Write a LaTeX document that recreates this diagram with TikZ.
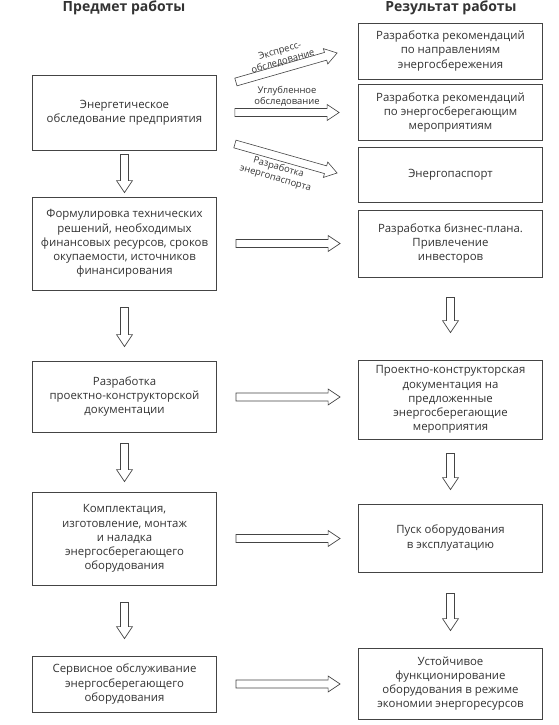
\documentclass[tikz,border=0pt]{standalone}
\usepackage{fontspec}
\setmainfont{Open Sans}
\usetikzlibrary{calc}
\definecolor{ink}{HTML}{333333}
\definecolor{frame}{HTML}{444444}
\tikzset{
  box/.style={draw=frame, line width=0.8pt, fill=white, text=ink, align=center,
    minimum width=184pt, inner sep=2pt, font=\fontsize{11.4}{14.2}\selectfont},
  head/.style={text=ink, font=\fontsize{14}{16}\selectfont\bfseries},
  lbl/.style={text=ink, align=center, inner sep=0pt, font=\fontsize{9.4}{11}\selectfont},
  blockarrow/.style={draw=frame, fill=white, line width=0.7pt, line join=miter,
    to path={
      let \p1=(\tikztostart), \p2=(\tikztotarget) in
      ($(\p1)!4pt!90:(\p2)$)
      -- ($(\p2)!12pt!(\p1)!4pt!-90:(\p1)$)
      -- ($(\p2)!12pt!(\p1)!8pt!-90:(\p1)$)
      -- (\p2)
      -- ($(\p2)!12pt!(\p1)!8pt!90:(\p1)$)
      -- ($(\p2)!12pt!(\p1)!4pt!90:(\p1)$)
      -- ($(\p1)!4pt!-90:(\p2)$)
      -- cycle
    }},
  thinarrow/.style={blockarrow, line width=0.6pt}
}
\begin{document}
\begin{tikzpicture}[x=1pt,y=-1pt]
\useasboundingbox (0,0) rectangle (559,725);

\node[head] (hL) at (124,8) {Предмет работы};
\node[head] (hR) at (451,8) {Результат работы};

% left column
\node[box, minimum height=75pt] (L1) at (124.5,112.5) {Энергетическое\\обследование предприятия};
\node[box, minimum height=93pt] (L2) at (124.5,243.5) {Формулировка технических\\решений, необходимых\\финансовых ресурсов, сроков\\окупаемости, источников\\финансирования};
\node[box, minimum height=71pt] (L3) at (124.5,396.5) {Разработка\\проектно-конструкторской\\документации};
\node[box, minimum height=93pt] (L4) at (124.5,538.5) {Комплектация,\\изготовление, монтаж\\и наладка\\энергосберегающего\\оборудования};
\node[box, minimum height=56pt] (L5) at (124.5,684) {Сервисное обслуживание\\энергосберегающего\\оборудования};

% right column
\node[box, minimum height=56pt] (R1) at (450.5,51) {Разработка рекомендаций\\по направлениям\\энергосбережения};
\node[box, minimum height=56pt] (R2) at (450.5,112.5) {Разработка рекомендаций\\по энергосберегающим\\мероприятиям};
\node[box, minimum height=55pt] (R3) at (450.5,174.5) {Энергопаспорт};
\node[box, minimum height=67pt] (R4) at (450.5,243.5) {Разработка бизнес-плана.\\Привлечение\\инвесторов};
\node[box, minimum height=79pt] (R5) at (450.5,399.5) {Проектно-конструкторская\\документация на\\предложенные\\энергосберегающие\\мероприятия};
\node[box, minimum height=68pt] (R6) at (450.5,538) {Пуск оборудования\\в эксплуатацию};
\node[box, minimum height=71pt] (R7) at (450.5,683.5) {Устойчивое\\функционирование\\оборудования в режиме\\экономии энергоресурсов};

% slanted arrows from the audit box
\draw[thinarrow] ($(L1.east)+(19,-30.5)$) to ($(R1.west)+(-21,2)$);
\draw[thinarrow] ($(L1.east)+(18,0)$) to ($(R2.west|-L1.east)+(-19,0)$);
\draw[thinarrow] ($(L1.east)+(18,31.5)$) to ($(R3.west)+(-21,-1.5)$);

\node[lbl, rotate=16] (t1) at (281.5,56.5) {Экспресс-\\обследование};
\node[lbl] (t2) at (287,96) {Углубленное\\обследование};
\node[lbl, rotate=-16] (t3) at (277,173) {Разработка\\энергопаспорта};

% horizontal arrows
\draw[blockarrow] ($(L2.east)+(19,0)$) to ($(R4.west|-L2.east)+(-18,0)$);
\draw[blockarrow] ($(L3.east)+(19,0.5)$) to ($(R5.west|-L3.east)+(-18,0.5)$);
\draw[blockarrow] ($(L4.east)+(19,0)$) to ($(R6.west|-L4.east)+(-18,0)$);
\draw[blockarrow] ($(L5.east)+(19,0)$) to ($(R7.west|-L5.east)+(-18,0)$);

% vertical arrows, left
\draw[blockarrow] ($(L1.south)+(0,4)$) to ($(L2.north)+(0,-4)$);
\draw[blockarrow] ($(L2.south)+(0,17)$) to ($(L3.north)+(0,-14)$);
\draw[blockarrow] ($(L3.south)+(0,11)$) to ($(L4.north)+(0,-10)$);
\draw[blockarrow] ($(L4.south)+(0,17)$) to ($(L5.north)+(0,-17)$);

% vertical arrows, right
\draw[blockarrow] ($(R4.south)+(0,20)$) to ($(R5.north)+(0,-27)$);
\draw[blockarrow] ($(R5.south)+(0,14)$) to ($(R6.north)+(0,-14)$);
\draw[blockarrow] ($(R6.south)+(0,21)$) to ($(R7.north)+(0,-17)$);
\end{tikzpicture}
\end{document}
